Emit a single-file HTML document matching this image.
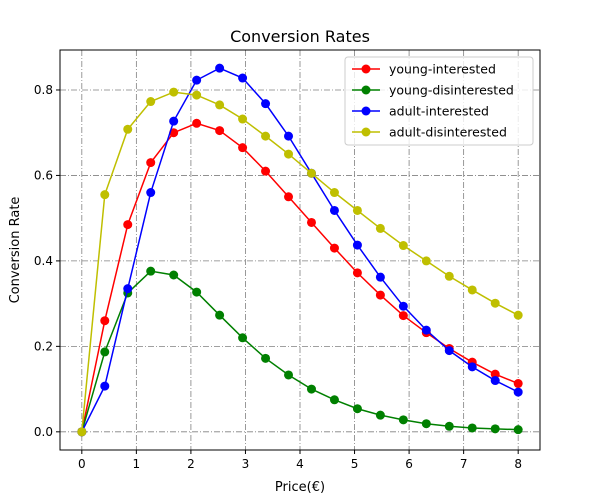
<!DOCTYPE html>
<html><head><meta charset="utf-8"><style>
body{margin:0;background:#fff}
svg{display:block;font-family:"DejaVu Sans","Liberation Sans",sans-serif}
</style></head><body>
<svg id="chart" width="600" height="500">
<rect x="0" y="0" width="600" height="500" fill="#fff"/>
<text x="300" y="42" text-anchor="middle" font-size="16">Conversion Rates</text>
<g id="grid"></g>
<g id="axes"></g>
<g id="series"></g>
<rect x="60" y="50" width="480" height="400" fill="none" stroke="#000" stroke-width="1"/>
<text x="300" y="491" text-anchor="middle" font-size="13">Price(€)</text>
<text x="19" y="250" text-anchor="middle" font-size="13" transform="rotate(-90 19 250)">Conversion Rate</text>
<g id="legend"></g>
</svg>
<script>
const names = ["young-interested","young-disinterested","adult-interested","adult-disinterested"];
const colors = ["#ff0000","#008000","#0000ff","#bfbf00"];
const xTicks = [0,1,2,3,4,5,6,7,8];
const yTicks = [0.0,0.2,0.4,0.6,0.8];
const yTickLabels = ["0.0","0.2","0.4","0.6","0.8"];
const youngInterested = [0,0.26,0.485,0.63,0.70,0.722,0.705,0.665,0.61,0.55,0.49,0.43,0.372,0.32,0.272,0.232,0.195,0.163,0.135,0.113];
const youngDisinterested = [0,0.187,0.325,0.376,0.367,0.327,0.273,0.22,0.172,0.133,0.1,0.075,0.054,0.039,0.028,0.019,0.013,0.009,0.007,0.005];
const adultInterested = [0,0.107,0.335,0.56,0.727,0.823,0.851,0.828,0.768,0.692,0.605,0.518,0.437,0.362,0.294,0.238,0.19,0.152,0.12,0.093];
const adultDisinterested = [0,0.555,0.708,0.773,0.795,0.788,0.765,0.732,0.692,0.65,0.605,0.56,0.518,0.476,0.436,0.4,0.364,0.332,0.301,0.273];
const xMax = 8;

const series=[youngInterested,youngDisinterested,adultInterested,adultDisinterested];
const NS="http://www.w3.org/2000/svg";
const L=60,R=540,T=50,B=450;
const xMin=-0.4,xMx=8.4;
const allV=series.flat();const vmax=Math.max(...allV),vmin=Math.min(...allV);
const pad=(vmax-vmin)*0.05;const yLo=vmin-pad,yHi=vmax+pad;
const sx=v=>L+(v-xMin)/(xMx-xMin)*(R-L);
const sy=v=>B-(v-yLo)/(yHi-yLo)*(B-T);
function mk(tag,attrs,parent){const e=document.createElementNS(NS,tag);for(const k in attrs)e.setAttribute(k,attrs[k]);parent.appendChild(e);return e;}
const grid=document.getElementById('grid'),axes=document.getElementById('axes'),sg=document.getElementById('series'),lg=document.getElementById('legend');
xTicks.forEach(t=>{const x=sx(t);
 const g=mk('line',{x1:x,x2:x,y1:T,y2:B,stroke:'#808080','stroke-width':0.8,'stroke-dasharray':'6 2 1 2'},grid);
 
 
 const tk=mk('line',{x1:x,x2:x,y1:B,y2:B+4,stroke:'#000'},axes);
 
 
 const tl=mk('text',{x:x,y:B+18,'text-anchor':'middle','font-size':12},axes);tl.textContent=t;
 
 
});
yTicks.forEach((t,i)=>{const y=sy(t);
 const g=mk('line',{x1:L,x2:R,y1:y,y2:y,stroke:'#808080','stroke-width':0.8,'stroke-dasharray':'6 2 1 2'},grid);
 
 
 const tk=mk('line',{x1:L-4,x2:L,y1:y,y2:y,stroke:'#000'},axes);
 
 
 const tl=mk('text',{x:L-7,y:y+4,'text-anchor':'end','font-size':12},axes);tl.textContent=yTickLabels[i];
 
 
});
series.forEach((s,si)=>{const n=s.length;
 const pts=s.map((v,i)=>[sx(i*xMax/(n-1)),sy(v)]);
 const pl=mk('polyline',{points:pts.map(p=>p.join(',')).join(' '),fill:'none',stroke:colors[si],'stroke-width':1.5},sg);
 
 
 pts.forEach(p=>{const c=mk('circle',{cx:p[0],cy:p[1],r:4.5,fill:colors[si]},sg);
  
  });
});
const lb=mk('rect',{x:345,y:57,width:188,height:88,rx:3,fill:'#fff','fill-opacity':0.8,stroke:'#ccc'},lg);


names.forEach((nm,i)=>{const y=69+i*21;
 const g=mk('g',{},lg);
 
 
 mk('line',{x1:352,x2:380,y1:y,y2:y,stroke:colors[i],'stroke-width':1.5},g);
 mk('circle',{cx:366,cy:y,r:4.5,fill:colors[i]},g);
 const t=mk('text',{x:389,y:y+4.5,'font-size':12.5},g);t.textContent=nm;
});
</script>
</body></html>
